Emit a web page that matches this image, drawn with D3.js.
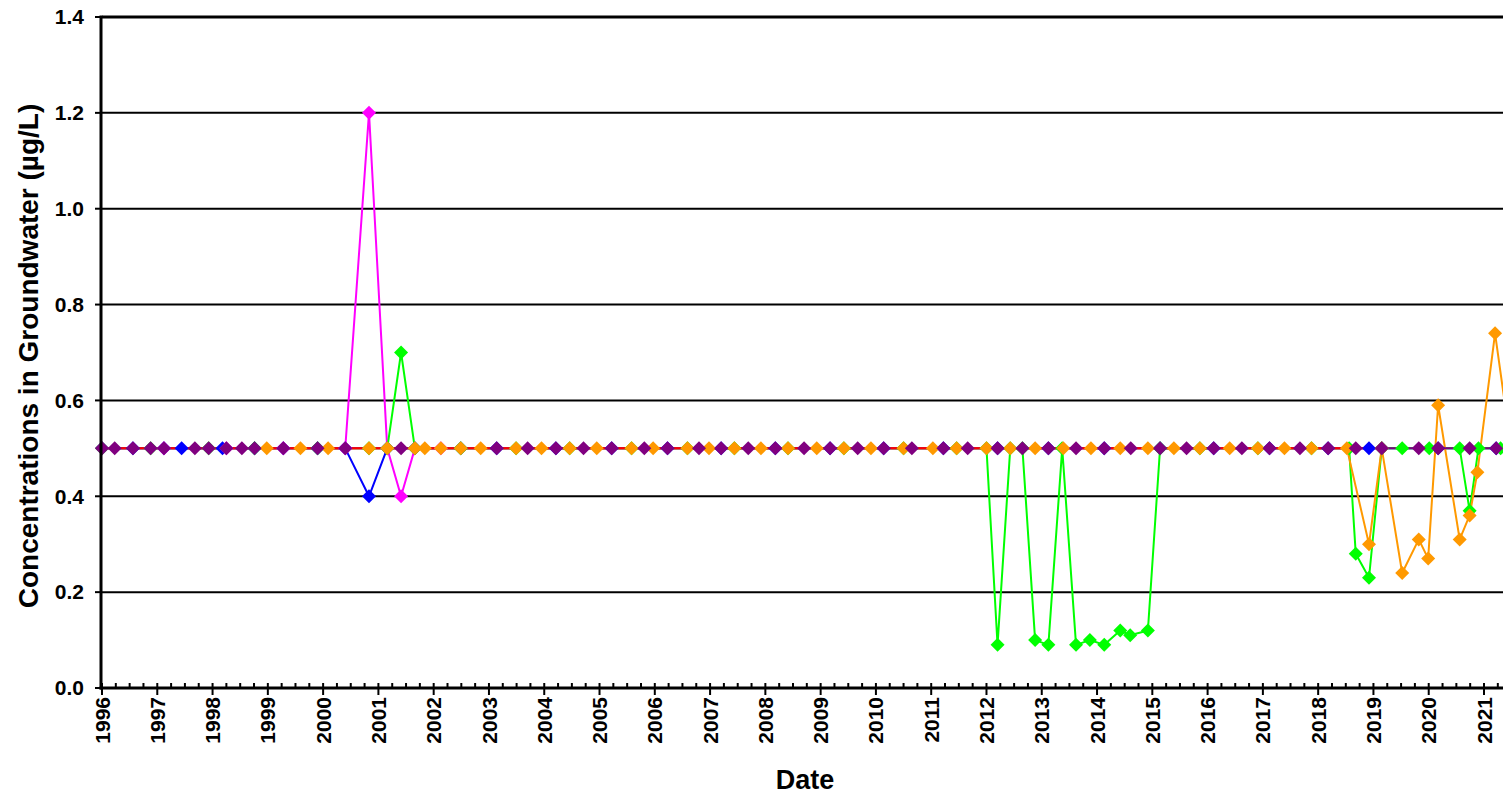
<!DOCTYPE html>
<html>
<head>
<meta charset="utf-8">
<script src="https://cdn.jsdelivr.net/npm/d3@7"></script>
<style>
  html, body { margin: 0; padding: 0; background: #fff; overflow: hidden; }
  text { font-family: Arial, "Liberation Sans", sans-serif; font-weight: bold; fill: #000; }
</style>
</head>
<body>
<svg id="chart" width="1503" height="796"></svg>
<script>
// ---------------- DATA (decimal year, concentration µg/L) ----------------
const yearTicks = [1996,1997,1998,1999,2000,2001,2002,2003,2004,2005,2006,2007,2008,2009,2010,2011,2012,2013,2014,2015,2016,2017,2018,2019,2020,2021];
const valueTicks = [0.0,0.2,0.4,0.6,0.8,1.0,1.2,1.4];

const blueSeries = [[1996.00,.5],[1996.56,.5],[1997.12,.5],[1997.44,.5],[1998.18,.5],[1998.76,.5],[1999.28,.5],[1999.90,.5],[2000.40,.5],[2000.83,.4],[2001.16,.5],[2001.66,.5],[2002.49,.5],[2003.14,.5],[2004.21,.5],[2005.22,.5],[2006.23,.5],[2007.20,.5],[2008.18,.5],[2009.17,.5],[2010.14,.5],[2011.22,.5],[2012.20,.5],[2013.12,.5],[2014.13,.5],[2015.14,.5],[2016.11,.5],[2017.12,.5],[2018.18,.5],[2018.92,.5],[2019.15,.5],[2020.17,.5],[2021.22,.5]];

const magentaSeries = [[1996.00,.5],[1997.12,.5],[1998.25,.5],[1999.28,.5],[2000.40,.5],[2000.83,1.2],[2001.16,.5],[2001.41,.4],[2001.66,.5],[2002.13,.5]];

const greenSeries = [[1996.00,.5],[1996.88,.5],[1997.93,.5],[1998.76,.5],[1999.90,.5],[2000.83,.5],[2001.16,.5],[2001.41,.7],[2001.66,.5],[2002.49,.5],[2003.49,.5],[2004.46,.5],[2005.58,.5],[2006.59,.5],[2007.44,.5],[2008.41,.5],[2009.42,.5],[2010.50,.5],[2011.46,.5],[2012.00,.5],[2012.20,.09],[2012.43,.5],[2012.65,.5],[2012.88,.10],[2013.12,.09],[2013.37,.5],[2013.62,.09],[2013.87,.10],[2014.13,.09],[2014.42,.12],[2014.60,.11],[2014.92,.12],[2015.14,.5],[2015.86,.5],[2016.91,.5],[2017.88,.5],[2018.56,.5],[2018.68,.28],[2018.92,.23],[2019.15,.5],[2019.52,.5],[2020.01,.5],[2020.56,.5],[2020.74,.37],[2020.90,.5],[2021.30,.5],[2021.60,.5]];

const orangeSeries = [[1998.98,.5],[1999.59,.5],[2000.09,.5],[2000.83,.5],[2001.16,.5],[2001.66,.5],[2001.84,.5],[2002.13,.5],[2002.49,.5],[2002.85,.5],[2003.49,.5],[2003.95,.5],[2004.46,.5],[2004.95,.5],[2005.58,.5],[2005.97,.5],[2006.59,.5],[2006.98,.5],[2007.44,.5],[2007.92,.5],[2008.41,.5],[2008.93,.5],[2009.42,.5],[2009.91,.5],[2010.50,.5],[2011.03,.5],[2011.46,.5],[2012.00,.5],[2012.43,.5],[2012.88,.5],[2013.39,.5],[2013.89,.5],[2014.42,.5],[2014.92,.5],[2015.39,.5],[2015.86,.5],[2016.40,.5],[2016.91,.5],[2017.39,.5],[2017.88,.5],[2018.52,.5],[2018.92,.30],[2019.15,.5],[2019.52,.24],[2019.82,.31],[2019.99,.27],[2020.17,.59],[2020.56,.31],[2020.74,.36],[2020.88,.45],[2021.20,.74],[2021.49,.5]];

const purpleSeries = [[1996.00,.5],[1996.23,.5],[1996.56,.5],[1996.88,.5],[1997.12,.5],[1997.68,.5],[1997.93,.5],[1998.25,.5],[1998.53,.5],[1998.76,.5],[1999.28,.5],[1999.90,.5],[2000.40,.5],[2001.41,.5],[2003.14,.5],[2003.70,.5],[2004.21,.5],[2004.71,.5],[2005.22,.5],[2005.81,.5],[2006.23,.5],[2006.80,.5],[2007.20,.5],[2007.69,.5],[2008.18,.5],[2008.70,.5],[2009.17,.5],[2009.67,.5],[2010.14,.5],[2010.65,.5],[2011.22,.5],[2011.66,.5],[2012.20,.5],[2012.65,.5],[2013.12,.5],[2013.62,.5],[2014.13,.5],[2014.61,.5],[2015.14,.5],[2015.62,.5],[2016.11,.5],[2016.62,.5],[2017.12,.5],[2017.67,.5],[2018.18,.5],[2018.68,.5],[2019.15,.5],[2019.82,.5],[2020.17,.5],[2020.74,.5],[2021.22,.5],[2021.60,.5]];

const redSeries = [[1996.00,.5],[1997.00,.5],[1998.00,.5],[1999.00,.5],[2000.00,.5],[2001.00,.5],[2002.00,.5],[2003.00,.5],[2004.00,.5],[2005.00,.5],[2006.00,.5],[2007.00,.5],[2008.00,.5],[2009.00,.5],[2010.00,.5],[2011.00,.5],[2012.00,.5],[2013.00,.5],[2014.00,.5],[2015.00,.5],[2016.00,.5],[2017.00,.5],[2018.00,.5],[2018.92,.5]];

// ---------------- CHART ----------------
(function () {
const svg = d3.select("#chart");
const pLeft = 102, pRight = 1484, pTop = 17, pBottom = 688;
const x = d3.scaleLinear().domain([1996, 2021]).range([pLeft, pRight]);
const y = d3.scaleLinear().domain([0, 1.4]).range([pBottom, pTop]);

// gridlines
svg.append("g").selectAll("line").data(valueTicks.filter(v => v > 0))
  .join("line")
  .attr("x1", pLeft).attr("x2", 1503)
  .attr("y1", d => y(d)).attr("y2", d => y(d))
  .attr("stroke", "#000").attr("stroke-width", d => d === 1.4 ? 3 : 2);

// series lines
const lineGen = d3.line().x(d => x(d[0])).y(d => y(d[1]));
const series = [
  {data: blueSeries, color: "#0000FF", markers: true},
  {data: magentaSeries, color: "#FF00FF", markers: true},
  {data: greenSeries, color: "#00FF00", markers: true},
  {data: orangeSeries, color: "#FF9900", markers: true},
  {data: purpleSeries, color: "#800080", markers: true},
  {data: redSeries, color: "#FF0000", markers: false}
];
const linesG = svg.append("g");
series.forEach(s => {
  linesG.append("path").datum(s.data)
    .attr("d", lineGen)
    .attr("fill", "none").attr("stroke", s.color).attr("stroke-width", 2)
    .attr("stroke-linejoin", "round");
});
const diamond = d3.symbol().type(d3.symbolSquare).size(98);
const markG = svg.append("g");
series.filter(s => s.markers).forEach(s => {
  markG.append("g").selectAll("path").data(s.data).join("path")
    .attr("d", diamond)
    .attr("transform", d => `translate(${x(d[0])},${y(d[1])}) rotate(45)`)
    .attr("fill", s.color);
});

// axes lines
svg.append("line").attr("x1", pLeft - 1).attr("x2", pLeft - 1).attr("y1", pTop - 1.5).attr("y2", pBottom + 1.5)
  .attr("stroke", "#000").attr("stroke-width", 3);
svg.append("line").attr("x1", pLeft - 2.5).attr("x2", 1503).attr("y1", pBottom).attr("y2", pBottom)
  .attr("stroke", "#000").attr("stroke-width", 3);

// y ticks & labels
const yAxisG = svg.append("g");
yAxisG.selectAll("line").data(valueTicks).join("line")
  .attr("x1", pLeft - 7).attr("x2", pLeft).attr("y1", d => y(d)).attr("y2", d => y(d))
  .attr("stroke", "#000").attr("stroke-width", 2);
yAxisG.selectAll("text").data(valueTicks).join("text")
  .attr("x", 84).attr("y", d => y(d)).attr("dy", "0.35em")
  .attr("text-anchor", "end").style("font-size", "21px")
  .text(d => d3.format(".1f")(d));

// x ticks (major yearly, minor quarterly)
const minor = [];
yearTicks.forEach(yr => { [0.25, 0.5, 0.75].forEach(q => minor.push(yr + q)); });
const xAxisG = svg.append("g");
xAxisG.selectAll("line.minor").data(minor.filter(v => x(v) < 1503)).join("line")
  .attr("class", "minor")
  .attr("x1", d => x(d)).attr("x2", d => x(d)).attr("y1", pBottom - 5).attr("y2", pBottom)
  .attr("stroke", "#000").attr("stroke-width", 2);
xAxisG.selectAll("line.major").data(yearTicks).join("line")
  .attr("class", "major")
  .attr("x1", d => x(d)).attr("x2", d => x(d)).attr("y1", pBottom - 5).attr("y2", pBottom + 7)
  .attr("stroke", "#000").attr("stroke-width", 2);
xAxisG.selectAll("text").data(yearTicks).join("text")
  .attr("transform", d => `translate(${x(d)},697) rotate(-90)`)
  .attr("dy", "0.36em").attr("text-anchor", "end").style("font-size", "21px")
  .text(d => d);

// titles
svg.append("text").attr("x", 805).attr("y", 789).attr("text-anchor", "middle")
  .style("font-size", "27px").text("Date");
svg.append("text").attr("transform", "translate(38,356) rotate(-90)").attr("text-anchor", "middle")
  .style("font-size", "28px").text("Concentrations in Groundwater (µg/L)");
})();
</script>
</body>
</html>
